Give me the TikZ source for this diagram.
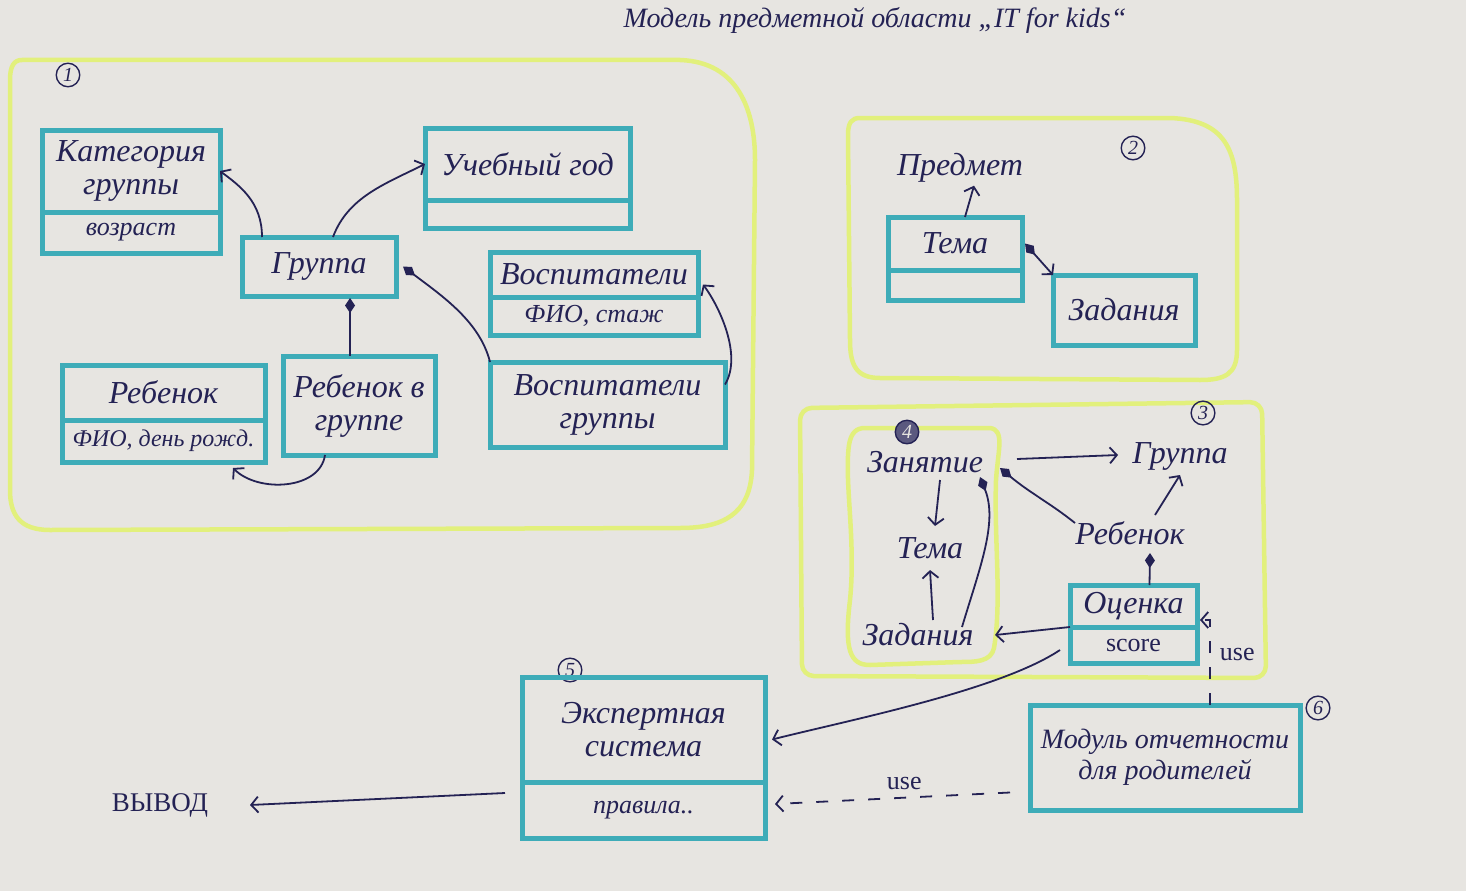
\documentclass[tikz,border=0pt]{standalone}
\usepackage{fontspec}
\setmainfont{Liberation Serif}
\usepackage{tikz}
\usetikzlibrary{arrows.meta,backgrounds}

\definecolor{paper}{RGB}{231,229,225}
\definecolor{boxteal}{RGB}{62,172,184}
\definecolor{marker}{RGB}{226,240,124}
\definecolor{ink}{RGB}{36,34,84}

\newcommand{\handfont}{\fontsize{32}{33}\selectfont\itshape}
\newcommand{\attrfont}{\fontsize{26}{28}\selectfont\itshape}

\begin{document}
\begin{tikzpicture}[x=1pt,y=1pt,yscale=-1,
  cls/.style={draw=boxteal, line width=5pt, inner sep=0pt, outer sep=0pt, anchor=north west, align=center, text=ink, font=\handfont},
  attr/.style={cls, font=\attrfont},
  lbl/.style={text=ink, font=\handfont, inner sep=1pt},
  num/.style={circle, draw=ink, line width=1.4pt, inner sep=2.5pt, text=ink, font=\fontsize{20}{20}\selectfont\itshape},
  zone/.style={draw=marker, line width=4.5pt, line join=round},
  link/.style={draw=ink, line width=1.8pt},
  uses/.style={link, dash pattern=on 12pt off 14pt},
  >={Straight Barb[length=7pt,width=16pt]},
  diam/.tip={Diamond[length=15pt,width=10pt]}
]
\fill[paper] (0,0) rectangle (1466,891);
\useasboundingbox (0,0) rectangle (1466,891);

% title
\node[lbl, font=\fontsize{28}{28}\selectfont\itshape] (title) at (875,20) {Модель предметной области „IT for kids“};

% marker zones
\draw[zone] (22,60) -- (680,60) .. controls (738,62) and (755,110) .. (755,160) -- (752,470) .. controls (750,515) and (722,528) .. (680,528) -- (50,530) .. controls (20,530) and (10,515) .. (10,490) -- (10,80) .. controls (10,66) and (14,60) .. (22,60) -- cycle;
\draw[zone] (860,118) -- (1170,118) .. controls (1225,120) and (1237,150) .. (1237,200) -- (1237,350) .. controls (1237,374) and (1225,380) .. (1200,380) -- (880,378) .. controls (856,378) and (850,365) .. (850,340) -- (848,135) .. controls (848,122) and (852,118) .. (860,118) -- cycle;
\draw[zone, rounded corners=12pt] (800,408) -- (1262,402) -- (1266,678) -- (802,676) -- cycle;
\draw[zone] (865,428) -- (990,428) .. controls (1005,430) and (998,450) .. (996,480) .. controls (994,540) and (1002,600) .. (994,648) .. controls (991,662) and (975,662) .. (960,662) -- (870,665) .. controls (850,665) and (844,650) .. (850,600) .. controls (856,540) and (844,480) .. (849,445) .. controls (851,432) and (857,428) .. (865,428) -- cycle;

% zone numbers
\node[num] (n1) at (68,75) {1};
\node[num] (n2) at (1133,148) {2};
\node[num] (n3) at (1203,413) {3};
\node[num, fill=ink!75, text=paper] (n4) at (907,432) {4};
\node[num] (n5) at (570,670) {5};
\node[num] (n6) at (1318,708) {6};

% zone 1 classes
\node[cls, minimum width=178pt, minimum height=82pt] (kat) at (42,130) {Категория\\группы};
\node[attr, minimum width=178pt, minimum height=41pt] (katA) at (42,212) {возраст};
\node[cls, minimum width=205pt, minimum height=72pt] (god) at (425,128) {Учебный год};
\node[cls, minimum width=205pt, minimum height=28pt] (godA) at (425,200) {};
\node[cls, minimum width=154pt, minimum height=59pt] (grp) at (242,237) {Группа};
\node[cls, minimum width=208pt, minimum height=45pt] (vos) at (490,252) {Воспитатели};
\node[attr, minimum width=208pt, minimum height=38pt] (vosA) at (490,297) {ФИО, стаж};
\node[cls, minimum width=203pt, minimum height=55pt] (reb) at (62,365) {Ребенок};
\node[attr, minimum width=203pt, minimum height=42pt, font=\fontsize{24}{26}\selectfont\itshape] (rebA) at (62,420) {ФИО, день рожд.};
\node[cls, minimum width=152pt, minimum height=99pt] (rvg) at (283,356) {Ребенок в\\группе};
\node[cls, minimum width=235pt, minimum height=85pt] (vgr) at (490,362) {Воспитатели\\группы};

% zone 2
\node[lbl] (pred) at (960,168) {Предмет};
\node[cls, minimum width=134pt, minimum height=53pt] (tema) at (888,217) {Тема};
\node[cls, minimum width=134pt, minimum height=30pt] (temaA) at (888,270) {};
\node[cls, minimum width=142pt, minimum height=70pt] (zad) at (1053,275) {Задания};

% zone 3
\node[lbl] (zan) at (925,462) {Занятие};
\node[lbl] (tema3) at (930,548) {Тема};
\node[lbl] (zad3) at (918,635) {Задания};
\node[lbl] (grp3) at (1180,456) {Группа};
\node[lbl] (reb3) at (1130,533) {Ребенок};
\node[cls, minimum width=127pt, minimum height=42pt] (ocn) at (1070,585) {Оценка};
\node[attr, minimum width=127pt, minimum height=36pt, font=\attrfont\upshape] (ocnA) at (1070,627) {score};

% zone 5, 6
\node[cls, minimum width=243pt, minimum height=105pt] (eks) at (522,677) {Экспертная\\система};
\node[attr, minimum width=243pt, minimum height=56pt] (eksA) at (522,782) {правила..};
\node[cls, minimum width=270pt, minimum height=105pt, font=\fontsize{28}{31}\selectfont\itshape] (mod) at (1030,705) {Модуль отчетности\\для родителей};
\node[lbl, font=\fontsize{27}{27}\selectfont] (vyv) at (160,805) {ВЫВОД};

% connectors zone 1
\draw[link,->] ([xshift=20pt]grp.north west) .. controls +(0,-35) and +(20,15) .. (kat.east);
\draw[link,->] ([xshift=91pt]grp.north west) .. controls +(15,-40) and +(-40,20) .. (god.west);
\draw[link,diam-] ([xshift=31pt,yshift=2pt]grp.south) -- ([xshift=-9pt]rvg.north);
\draw[link,diam-] ([xshift=7pt]grp.east) .. controls +(40,30) and +(-10,-40) .. (vgr.north west);
\draw[link,->] ([yshift=-20pt]vgr.east) .. controls +(18,-30) and +(15,20) .. ([xshift=5pt,yshift=10pt]vos.east);
\draw[link,->] ([xshift=-34pt]rvg.south) .. controls +(-5,35) and +(25,25) .. ([xshift=-32pt,yshift=6pt]rebA.south east);

% connectors zone 2
\draw[link,->] ([xshift=10pt]tema.north) -- ([xshift=14pt,yshift=2pt]pred.south);
\draw[link,diam->] ([xshift=3pt]tema.east) -- (zad.north west);

% connectors zone 3
\draw[link,->] ([xshift=15pt,yshift=18pt]zan.center) -- ([xshift=5pt,yshift=-22pt]tema3.center);
\draw[link,->] ([xshift=15pt,yshift=-15pt]zad3.center) -- ([xshift=0pt,yshift=22pt]tema3.center);
\draw[link,diam-] ([xshift=55pt,yshift=15pt]zan.center) .. controls +(18,45) and +(18,-60) .. ([xshift=44pt,yshift=-8pt]zad3.center);
\draw[link,->] ([xshift=92pt,yshift=-3pt]zan.center) -- ([xshift=-62pt,yshift=-1pt]grp3.center);
\draw[link,diam-] ([xshift=75pt,yshift=6pt]zan.center) .. controls +(30,25) and +(-25,-20) .. ([xshift=-55pt,yshift=-10pt]reb3.center);
\draw[link,->] ([xshift=25pt,yshift=-18pt]reb3.center) -- ([xshift=0pt,yshift=19pt]grp3.center);
\draw[link,diam-] ([xshift=20pt,yshift=20pt]reb3.center) -- ([xshift=16pt]ocn.north);
\draw[link,->] (ocnA.north west) -- ([xshift=77pt]zad3.center);
\draw[link,->] ([xshift=-10pt,yshift=5pt]ocnA.west) .. controls +(-60,40) and +(80,-20) .. ([xshift=7pt,yshift=10pt]eks.east);

% use links
\draw[uses,->] ([xshift=45pt]mod.north) |- ([xshift=3pt,yshift=14pt]ocn.east) node[pos=0.3, right=8pt, lbl, font=\attrfont\upshape] (use1) {use};
\draw[uses,->] ([xshift=-20pt,yshift=35pt]mod.west) -- ([xshift=10pt,yshift=-6pt]eksA.east) node[pos=0.45, above=6pt, lbl, font=\attrfont\upshape] (use2) {use};
\draw[link,->] ([xshift=-17pt,yshift=-17pt]eksA.west) -- ([xshift=90pt]vyv.center);

\end{tikzpicture}
\end{document}
